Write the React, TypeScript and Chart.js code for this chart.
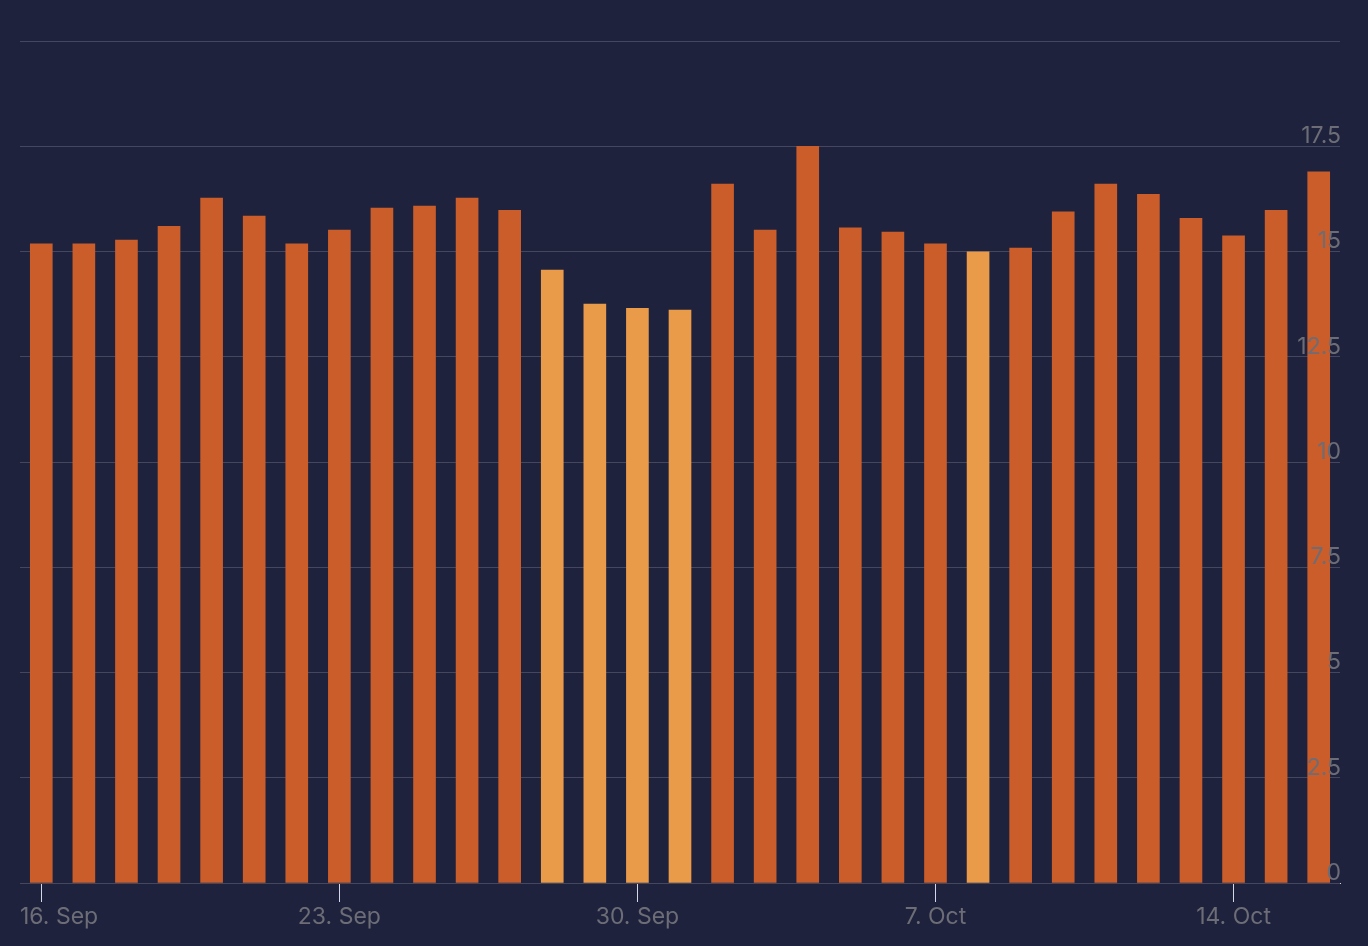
import React, { useEffect, useRef } from 'react';
import { Chart, registerables } from 'chart.js';

Chart.register(...registerables);

// ---- Data ----
const dates: string[] = [
  '16. Sep', '17. Sep', '18. Sep', '19. Sep', '20. Sep', '21. Sep', '22. Sep',
  '23. Sep', '24. Sep', '25. Sep', '26. Sep', '27. Sep', '28. Sep', '29. Sep',
  '30. Sep', '1. Oct', '2. Oct', '3. Oct', '4. Oct', '5. Oct', '6. Oct',
  '7. Oct', '8. Oct', '9. Oct', '10. Oct', '11. Oct', '12. Oct', '13. Oct',
  '14. Oct', '15. Oct', '16. Oct',
];

const values: number[] = [
  15.18, 15.18, 15.27, 15.6, 16.27, 15.84, 15.18,
  15.51, 16.03, 16.08, 16.27, 15.98, 14.56, 13.75,
  13.65, 13.61, 16.6, 15.51, 17.5, 15.56, 15.46,
  15.18, 14.99, 15.08, 15.94, 16.6, 16.36, 15.79,
  15.37, 15.98, 16.89,
];

const highlightedDates: string[] = ['28. Sep', '29. Sep', '30. Sep', '1. Oct', '8. Oct'];

const xTickLabels: string[] = ['16. Sep', '23. Sep', '30. Sep', '7. Oct', '14. Oct'];

const yTickValues: number[] = [0, 2.5, 5, 7.5, 10, 12.5, 15, 17.5, 20];
const yHiddenLabels: number[] = [20];

// ---- Styles ----
const BG = '#1f223d';
const BAR = '#ca5d29';
const BAR_LIGHT = '#e99b4a';
const GRID = '#45475e';
const AXIS = '#d3d7e8';
const LABEL = '#6c6d76';
const FONT_FAMILY = 'Inter, "Noto Sans", sans-serif';
const FONT_SIZE = 23;

const xLabelPlugin = {
  id: 'xLabels',
  afterDraw(chart: any) {
    const { ctx, chartArea, scales } = chart;
    const xs = scales.x;
    ctx.save();
    ctx.font = `${FONT_SIZE}px ${FONT_FAMILY}`;
    ctx.fillStyle = LABEL;
    ctx.textBaseline = 'middle';
    ctx.textAlign = 'left';
    xTickLabels.forEach((label) => {
      const idx = dates.indexOf(label);
      if (idx < 0) return;
      const px = xs.getPixelForValue(idx);
      const w = ctx.measureText(label).width;
      let left = px - w / 2;
      if (left < chartArea.left) left = chartArea.left;
      if (left + w > chartArea.right) left = chartArea.right - w;
      ctx.fillText(label, left, xs.top + 34);
    });
    ctx.restore();
  },
};

export default function App() {
  const canvasRef = useRef<HTMLCanvasElement | null>(null);

  useEffect(() => {
    document.body.style.margin = '0';
    const canvas = canvasRef.current;
    if (!canvas) return;
    const chart = new Chart(canvas, {
      type: 'bar',
      data: {
        labels: dates,
        datasets: [
          {
            data: values,
            backgroundColor: dates.map((d) => (highlightedDates.includes(d) ? BAR_LIGHT : BAR)),
            borderWidth: 0,
            barThickness: 22,
          },
        ],
      },
      plugins: [xLabelPlugin],
      options: {
        animation: false,
        responsive: true,
        maintainAspectRatio: false,
        layout: { padding: { left: 20, right: 26, top: 41, bottom: 44 } },
        plugins: {
          legend: { display: false },
          tooltip: { enabled: false },
        },
        scales: {
          x: {
            type: 'category',
            offset: true,
            grid: {
              offset: false,
              drawOnChartArea: false,
              drawTicks: true,
              tickLength: 19,
              lineWidth: 1,
              color: (ctx: any) =>
                xTickLabels.includes(dates[ctx.index]) ? AXIS : 'rgba(0,0,0,0)',
            },
            border: { display: true, color: AXIS, width: 1 },
            ticks: { display: false, autoSkip: false },
          },
          y: {
            position: 'right',
            min: 0,
            max: 20,
            afterBuildTicks: (scale: any) => {
              scale.ticks = yTickValues.map((v) => ({ value: v }));
            },
            grid: {
              color: GRID,
              lineWidth: 1,
              drawTicks: false,
              z: 0,
            },
            border: { display: false },
            ticks: {
              mirror: true,
              padding: 1,
              labelOffset: -10,
              color: LABEL,
              font: { family: FONT_FAMILY, size: FONT_SIZE },
              z: 1,
              callback: (v: any) => (yHiddenLabels.includes(Number(v)) ? '' : String(v)),
            },
          },
        },
      },
    } as any);
    return () => chart.destroy();
  }, []);

  return (
    <div
      style={{
        position: 'absolute',
        left: 0,
        top: 0,
        width: 1368,
        height: 946,
        background: BG,
      }}
    >
      <canvas ref={canvasRef} />
    </div>
  );
}
